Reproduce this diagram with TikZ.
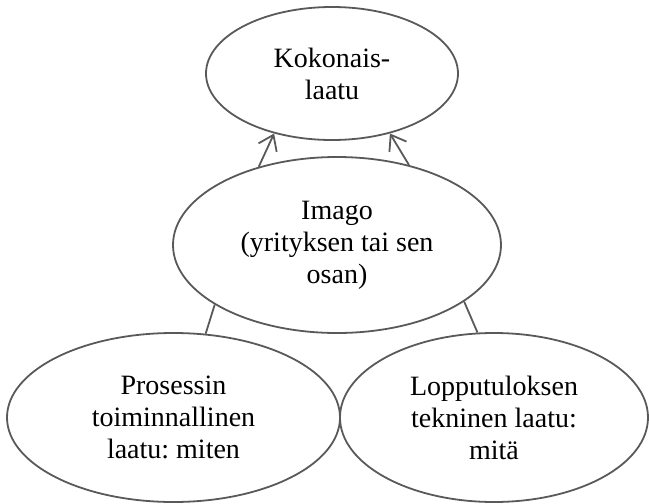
\documentclass[tikz,border=0pt]{standalone}
\usepackage{fontspec}
\setmainfont{Liberation Serif}
\usetikzlibrary{shapes.geometric,arrows.meta}
\frenchspacing
\begin{document}
\begin{tikzpicture}[x = 0.5pt, y = -0.5pt,
    oval/.style = {ellipse, draw = black!65, line width = 0.9pt, inner sep = 0pt,
      align = center, font = \fontsize{14}{16}\selectfont},
    link/.style = {draw = black!65, line width = 0.9pt},
    up/.style = {link, -{Straight Barb[length = 7pt, width = 10pt]}}]
      \useasboundingbox (0, 0) rectangle (649, 504);
      \node [oval, minimum width = 126pt, minimum height = 66.5pt] (koko) at (332, 73.5) {Kokonais-\\laatu};
      \node [oval, minimum width = 164pt, minimum height = 88pt] (imago) at (337, 245) {Imago\\(yrityksen tai sen\\osan)};
      \node [oval, minimum width = 166.5pt, minimum height = 84.5pt] (prosessi) at (173.5, 417.5) {Prosessin\\toiminnallinen\\laatu: miten};
      \node [oval, minimum width = 154pt, minimum height = 84.5pt] (tulos) at (494, 417.5) {Lopputuloksen\\tekninen laatu:\\mitä};
      \draw [up] (imago.135) -- (koko.226);
      \draw [up] (imago.48) -- (koko.314);
      \draw [link] (imago.206) -- (prosessi.69);
      \draw [link] (imago.336) -- (tulos.101);
    \end{tikzpicture}
\end{document}
